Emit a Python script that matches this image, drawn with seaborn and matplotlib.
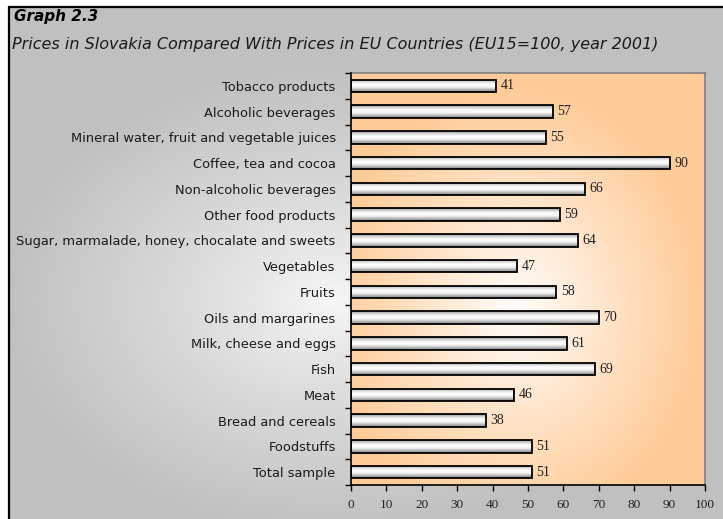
import numpy as np
import pandas as pd
import matplotlib
matplotlib.use("Agg")
import matplotlib.pyplot as plt
from matplotlib.colors import LinearSegmentedColormap
from matplotlib.lines import Line2D
import seaborn as sns

categories = [
    "Tobacco products",
    "Alcoholic beverages",
    "Mineral water, fruit and vegetable juices",
    "Coffee, tea and cocoa",
    "Non-alcoholic beverages",
    "Other food products",
    "Sugar, marmalade, honey, chocalate and sweets",
    "Vegetables",
    "Fruits",
    "Oils and margarines",
    "Milk, cheese and eggs",
    "Fish",
    "Meat",
    "Bread and cereals",
    "Foodstuffs",
    "Total sample",
]
values = [41, 57, 55, 90, 66, 59, 64, 47, 58, 70, 61, 69, 46, 38, 51, 51]
x_ticks = [0, 10, 20, 30, 40, 50, 60, 70, 80, 90, 100]

title = "Graph 2.3"
subtitle = "Prices in Slovakia Compared With Prices in EU Countries (EU15=100, year 2001)"

df = pd.DataFrame({"category": categories, "value": values})

sns.set_theme(style="white")
plt.rcParams["font.family"] = ["DejaVu Sans"]

W, H = 723, 519
fig = plt.figure(figsize=(W / 100, H / 100), dpi=100, facecolor="white")

# ---- figure background (gray, light centre) ----
bg = fig.add_axes([9 / W, 0, 1 - 9 / W, 1 - 7 / H], zorder=-5)
bg.set_axis_off()
yy, xx = np.mgrid[7:H:1.0, 9:W:1.0]
cx, cy, rx, ry = 330, 300, 330, 235
t = np.clip(np.sqrt(((xx - cx) / rx) ** 2 + ((yy - cy) / ry) ** 2), 0, 1) ** 0.8
c0 = np.array([0.975, 0.975, 0.975])
c1 = np.array([0.753, 0.753, 0.753])
img = c0[None, None, :] * (1 - t[..., None]) + c1[None, None, :] * t[..., None]
bg.imshow(img, aspect="auto", extent=[0, 1, 0, 1], origin="upper", interpolation="bilinear")
bg.set_xlim(0, 1)
bg.set_ylim(0, 1)
fig.add_artist(Line2D([9 / W, 9 / W], [0, 1 - 7 / H], color="black", lw=1.6, transform=fig.transFigure))
fig.add_artist(Line2D([9 / W, 1], [1 - 7 / H, 1 - 7 / H], color="black", lw=1.6, transform=fig.transFigure))

# ---- main axes ----
L, R, T, B = 351, 705, 73, 485
ax = fig.add_axes([L / W, 1 - B / H, (R - L) / W, (B - T) / H])
ax.patch.set_visible(False)

sns.barplot(data=df, y="category", x="value", orient="h", color="white",
            edgecolor="black", linewidth=1.3, width=0.48, ax=ax, zorder=3)

# plot area gradient (orange edges, white centre)
py, px = np.mgrid[0:(B - T):1.0, 0:(R - L):1.0]
pcx, pcy, prx, pry = 165, 235, 185, 220
pt = np.clip(np.sqrt(((px - pcx) / prx) ** 2 + ((py - pcy) / pry) ** 2), 0, 1) ** 0.9
o0 = np.array([1.0, 1.0, 1.0])
o1 = np.array([1.0, 0.80, 0.60])
pimg = o0[None, None, :] * (1 - pt[..., None]) + o1[None, None, :] * pt[..., None]
n = len(categories)
ax.imshow(pimg, aspect="auto", extent=[0, 100, n - 0.5, -0.5], origin="upper",
          interpolation="bilinear", zorder=0)

# bar cylinder gradient
bar_cmap = LinearSegmentedColormap.from_list(
    "bar", [(0.0, "#909090"), (0.2, "#d8d8d8"), (0.4, "#ffffff"), (0.62, "#f2f2f2"),
            (0.8, "#bcbcbc"), (1.0, "#808080")])
grad = np.linspace(0, 1, 64).reshape(-1, 1)
for p in list(ax.patches):
    x0, y0 = p.get_x(), p.get_y()
    w, h = p.get_width(), p.get_height()
    im = ax.imshow(grad, cmap=bar_cmap, aspect="auto", extent=[x0, x0 + w, y0 + h, y0],
                   origin="upper", interpolation="bilinear", zorder=2)
    im.set_clip_path(p)
    p.set_facecolor("none")
    p.set_zorder(3)

# value labels
for i, v in enumerate(values):
    ax.text(v + 1.3, i, f"{v}", va="center", ha="left", fontsize=10,
            family="Liberation Serif", color="#222222", zorder=4)

ax.set_xlim(0, 100)
ax.set_ylim(n - 0.5, -0.5)
ax.set_xticks(x_ticks)
ax.set_xticklabels([str(v) for v in x_ticks], family="Liberation Serif", fontsize=9.5, color="#222222")
ax.set_yticks(np.arange(n))
ax.set_yticklabels(categories, fontsize=9.4, color="#1a1a1a")
ax.set_xlabel("")
ax.set_ylabel("")

# y ticks at band boundaries
ax.set_yticks(np.arange(-0.5, n, 1.0), minor=True)
ax.tick_params(axis="y", which="major", length=0, pad=11)
ax.tick_params(axis="y", which="minor", length=4, width=1, color="black", direction="out", left=True)
ax.tick_params(axis="x", which="major", length=4, width=1, color="black", direction="out",
               bottom=True, pad=6)

for s in ["left", "bottom"]:
    ax.spines[s].set_color("black")
    ax.spines[s].set_linewidth(1.2)
    ax.spines[s].set_zorder(5)
for s in ["top", "right"]:
    ax.spines[s].set_color("#808080")
    ax.spines[s].set_linewidth(1.2)
    ax.spines[s].set_visible(True)

fig.text(14 / W, 1 - 17 / H, title, fontsize=11, fontweight="bold", fontstyle="italic",
         va="center", ha="left", color="black")
fig.text(12 / W, 1 - 45 / H, subtitle, fontsize=11.5, fontstyle="italic",
         va="center", ha="left", color="#1a1a1a")

fig.savefig("out.png", dpi=100, facecolor="white")
